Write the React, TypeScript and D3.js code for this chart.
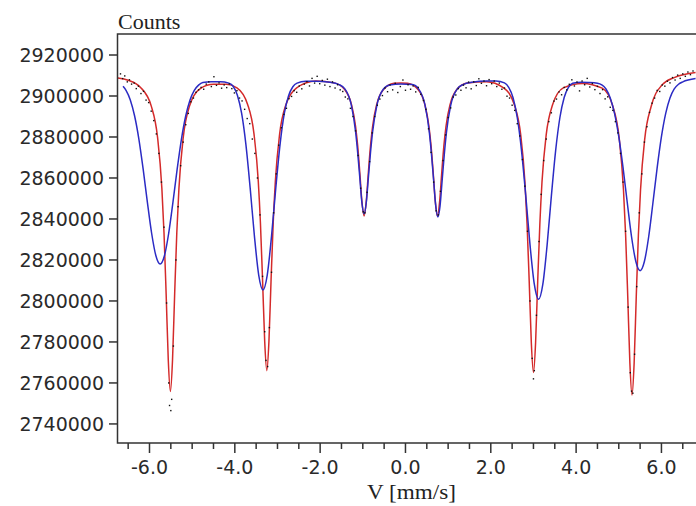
import React from "react";
import * as d3 from "d3";

// fitted curve, narrow sextet (red)
const redV = [
  -6.74, -6.5, -6.21, -5.96, -5.81, -5.71, -5.66, -5.61, -5.56, -5.51, -5.46, -5.41, -5.36, -5.31, -5.21, -5.06,
  -4.81, -4.5, -4.2, -3.95, -3.7, -3.55, -3.45, -3.4, -3.35, -3.3, -3.25, -3.2, -3.15, -3.1, -3.05, -2.95, -2.8,
  -2.55, -2.1, -1.67, -1.42, -1.27, -1.17, -1.12, -1.07, -1.02, -0.97, -0.92, -0.87, -0.82, -0.77, -0.67, -0.52,
  -0.27, -0.11, 0.05, 0.3, 0.45, 0.55, 0.6, 0.65, 0.7, 0.75, 0.8, 0.85, 0.9, 0.95, 1.05, 1.2, 1.45, 1.9, 2.3,
  2.55, 2.7, 2.8, 2.85, 2.9, 2.95, 3.0, 3.05, 3.1, 3.15, 3.2, 3.3, 3.45, 3.7, 4.15, 4.61, 4.86, 5.01, 5.11, 5.16,
  5.21, 5.26, 5.31, 5.36, 5.41, 5.46, 5.51, 5.61, 5.76, 6.01, 6.3, 6.8,
];
const redCounts = [
  2908800, 2907700, 2904200, 2895200, 2879700, 2854940, 2833250, 2803500, 2771300, 2755800, 2771300, 2803500,
  2833250, 2854940, 2879700, 2895200, 2903600, 2905700, 2905700, 2903970, 2895870, 2881440, 2858350, 2838150,
  2810440, 2780430, 2766000, 2780430, 2810440, 2838150, 2858350, 2881440, 2895870, 2903970, 2907300, 2906400,
  2903030, 2896190, 2885250, 2875670, 2862540, 2848310, 2841470, 2848310, 2862540, 2875670, 2885250, 2896190,
  2903030, 2906230, 2906400, 2906230, 2903030, 2896190, 2885250, 2875670, 2862540, 2848310, 2841470, 2848310,
  2862540, 2875670, 2885250, 2896190, 2903030, 2906300, 2907000, 2903960, 2895810, 2881280, 2858030, 2837690,
  2809790, 2779570, 2765040, 2779570, 2809790, 2837690, 2858030, 2881280, 2895810, 2903960, 2906160, 2903810,
  2895020, 2879360, 2854300, 2832380, 2802310, 2769740, 2754080, 2769740, 2802310, 2832380, 2854300, 2879360,
  2895020, 2905300, 2909000, 2911500,
];

// fitted curve, broad sextet (blue)
const blueV = [
  -6.62, -6.55, -6.45, -6.35, -6.25, -6.15, -6.05, -5.95, -5.85, -5.75, -5.65, -5.55, -5.45, -5.35, -5.25, -5.15,
  -5.05, -4.95, -4.85, -4.75, -4.55, -4.34, -4.14, -4.04, -3.94, -3.84, -3.74, -3.64, -3.54, -3.44, -3.34, -3.24,
  -3.14, -3.04, -2.94, -2.84, -2.74, -2.64, -2.54, -2.34, -2.1, -1.77, -1.57, -1.42, -1.27, -1.17, -1.12, -1.07,
  -1.02, -0.97, -0.92, -0.87, -0.82, -0.77, -0.67, -0.52, -0.37, -0.11, 0.16, 0.31, 0.46, 0.56, 0.61, 0.66, 0.71,
  0.76, 0.81, 0.86, 0.91, 0.96, 1.06, 1.21, 1.36, 1.56, 1.9, 2.12, 2.32, 2.42, 2.52, 2.62, 2.72, 2.82, 2.92, 3.02,
  3.12, 3.22, 3.32, 3.42, 3.52, 3.62, 3.72, 3.82, 3.92, 4.12, 4.3, 4.5, 4.6, 4.7, 4.8, 4.9, 5.0, 5.1, 5.2, 5.3,
  5.4, 5.5, 5.6, 5.7, 5.8, 5.9, 6.0, 6.1, 6.2, 6.3, 6.4, 6.5, 6.8,
];
const blueCounts = [
  2904725, 2902760, 2898070, 2890360, 2879130, 2864540, 2848250, 2833040, 2822030, 2818000, 2822030, 2833040,
  2848250, 2864540, 2879130, 2890360, 2898070, 2902760, 2905325, 2906596, 2907000, 2907000, 2906300, 2904774,
  2900384, 2891470, 2876260, 2855020, 2831540, 2812650, 2805400, 2812650, 2831540, 2855020, 2876260, 2891470,
  2900100, 2904500, 2906300, 2907200, 2907250, 2906700, 2905700, 2903450, 2895700, 2882700, 2872350, 2860050,
  2847730, 2842500, 2847730, 2860050, 2872300, 2882600, 2895500, 2903300, 2905400, 2905800, 2905580, 2903370,
  2895410, 2882140, 2871520, 2858910, 2846310, 2841000, 2846310, 2858910, 2871520, 2882140, 2895410, 2903370,
  2905700, 2906700, 2907300, 2907300, 2906380, 2904246, 2899273, 2889510, 2873360, 2851270, 2827260, 2808160,
  2800800, 2808160, 2827260, 2851270, 2873360, 2889510, 2899273, 2904246, 2906200, 2906700, 2906600, 2906200,
  2905400, 2903430, 2899027, 2891520, 2880150, 2865040, 2847800, 2831210, 2819250, 2814800, 2819250, 2831210,
  2847800, 2865040, 2880150, 2891520, 2899027, 2903430, 2905720, 2906900, 2908500,
];

// measured points (black dots)
const dotV = [
  -6.68, -6.63, -6.58, -6.52, -6.47, -6.42, -6.36, -6.31, -6.26, -6.2, -6.14, -6.08, -6.02, -5.96, -5.9, -5.84,
  -5.78, -5.72, -5.66, -5.6, -5.55, -5.53, -5.5, -5.48, -5.44, -5.38, -5.33, -5.27, -5.21, -5.15, -5.09, -5.03,
  -4.97, -4.91, -4.85, -4.79, -4.73, -4.67, -4.61, -4.55, -4.49, -4.43, -4.37, -4.31, -4.25, -4.19, -4.13, -4.07,
  -4.01, -3.95, -3.89, -3.83, -3.77, -3.71, -3.65, -3.59, -3.53, -3.47, -3.41, -3.35, -3.3, -3.27, -3.23, -3.19,
  -3.14, -3.09, -3.03, -2.97, -2.91, -2.85, -2.79, -2.73, -2.67, -2.61, -2.55, -2.49, -2.43, -2.37, -2.31, -2.25,
  -2.19, -2.13, -2.07, -2.01, -1.95, -1.89, -1.83, -1.77, -1.71, -1.65, -1.59, -1.53, -1.47, -1.41, -1.35, -1.29,
  -1.23, -1.17, -1.11, -1.05, -0.99, -0.95, -0.9, -0.84, -0.78, -0.72, -0.66, -0.6, -0.54, -0.48, -0.42, -0.36,
  -0.3, -0.24, -0.18, -0.12, -0.06, 0.0, 0.06, 0.12, 0.18, 0.24, 0.3, 0.36, 0.42, 0.48, 0.54, 0.6, 0.66, 0.72,
  0.77, 0.82, 0.88, 0.94, 1.0, 1.06, 1.12, 1.18, 1.24, 1.3, 1.36, 1.42, 1.48, 1.54, 1.6, 1.66, 1.72, 1.78, 1.84,
  1.9, 1.96, 2.02, 2.08, 2.14, 2.2, 2.26, 2.32, 2.38, 2.44, 2.5, 2.56, 2.62, 2.68, 2.74, 2.8, 2.86, 2.92, 2.97,
  3.0, 3.02, 3.07, 3.13, 3.18, 3.24, 3.3, 3.36, 3.42, 3.48, 3.54, 3.6, 3.66, 3.72, 3.78, 3.84, 3.9, 3.96, 4.02,
  4.08, 4.14, 4.2, 4.26, 4.32, 4.38, 4.44, 4.5, 4.56, 4.62, 4.68, 4.74, 4.8, 4.86, 4.92, 4.98, 5.04, 5.1, 5.16,
  5.22, 5.27, 5.3, 5.33, 5.37, 5.42, 5.48, 5.54, 5.6, 5.66, 5.72, 5.78, 5.84, 5.9, 5.96, 6.02, 6.08, 6.14, 6.2,
  6.26, 6.32, 6.38, 6.44, 6.5, 6.56, 6.62, 6.68, 6.74,
];
const dotCounts = [
  2910800, 2908500, 2909800, 2906900, 2907900, 2905800, 2906300, 2903600, 2904800, 2901200, 2902300, 2898000,
  2896800, 2892600, 2888000, 2881500, 2872000, 2858000, 2836000, 2799000, 2760000, 2749000, 2746500, 2752000,
  2778000, 2820000, 2846000, 2866000, 2877500, 2886000, 2891500, 2897200, 2899000, 2901800, 2903000, 2904200,
  2903300, 2905800, 2906900, 2904600, 2909400, 2905200, 2906400, 2903800, 2905400, 2904100, 2905900, 2903600,
  2901500, 2902600, 2899000, 2897600, 2893500, 2889000, 2886500, 2879000, 2872000, 2860000, 2842000, 2812000,
  2785000, 2771000, 2768000, 2787000, 2814000, 2843000, 2862000, 2876000, 2884500, 2891000, 2894000, 2898700,
  2899800, 2902600, 2901800, 2904900, 2903500, 2905800, 2907000, 2904900, 2908600, 2906300, 2909600, 2906000,
  2907600, 2905300, 2908200, 2904600, 2906900, 2903900, 2905500, 2903000, 2902200, 2899500, 2898600, 2894000,
  2890000, 2883000, 2871000, 2855000, 2843500, 2843000, 2853000, 2868000, 2882000, 2890000, 2895500, 2898500,
  2900200, 2903900, 2902100, 2905400, 2903000, 2906200, 2901700, 2904600, 2907800, 2902800, 2905500, 2903300,
  2904900, 2902000, 2904200, 2900800, 2897800, 2893500, 2884000, 2872500, 2858000, 2844000, 2842000, 2853500,
  2868500, 2881000, 2889500, 2894200, 2899500, 2900500, 2903600, 2902800, 2905300, 2904000, 2906800, 2903500,
  2906900, 2905100, 2908400, 2906200, 2907300, 2905000, 2908000, 2906000, 2907300, 2904600, 2906300, 2903300,
  2903900, 2899900, 2899000, 2895500, 2893000, 2886500, 2880500, 2869000, 2856000, 2834000, 2800000, 2772000,
  2762000, 2766000, 2793000, 2829000, 2852000, 2868500, 2879000, 2887500, 2891800, 2897500, 2898500, 2902000,
  2900600, 2904200, 2903000, 2905700, 2907900, 2904900, 2906800, 2902500, 2907300, 2905500, 2908600, 2904400,
  2906100, 2903100, 2904700, 2901200, 2903100, 2898600, 2899600, 2894500, 2893000, 2887500, 2882000, 2872000,
  2858000, 2834000, 2797000, 2765000, 2756000, 2755000, 2774000, 2807000, 2843000, 2862000, 2877500, 2885000,
  2892000, 2896500, 2899000, 2902700, 2902200, 2905400, 2904800, 2907200, 2906400, 2909000, 2907800, 2910200,
  2908600, 2910800, 2909600, 2911700, 2910400, 2912200,
];

// axis ticks
const yTicks = [2740000, 2760000, 2780000, 2800000, 2820000, 2840000, 2860000, 2880000, 2900000, 2920000];
const xTicks = [-6.0, -4.0, -2.0, 0.0, 2.0, 4.0, 6.0];

const W = 696;
const H = 506;
const left = 117.5;
const right = 697;
const top = 34;
const bottom = 443;

const numFont = "'DejaVu Sans', Verdana, sans-serif";
const serif = "'Liberation Serif', 'Times New Roman', serif";

export default function App() {
  const x = d3.scaleLinear().domain([-6.75, 6.81]).range([left, 696]);
  const y = d3.scaleLinear().domain([2730700, 2930250]).range([bottom, top]);

  const line = d3
    .line<[number, number]>()
    .x((d) => x(d[0]))
    .y((d) => y(d[1]))
    .curve(d3.curveMonotoneX);

  const red = redV.map((v, i) => [v, redCounts[i]] as [number, number]);
  const blue = blueV.map((v, i) => [v, blueCounts[i]] as [number, number]);
  const minor = d3.range(-6.5, 7, 0.5).filter((t) => Math.abs(t % 2) > 0.01);

  return (
    <svg width={W} height={H} style={{ position: "absolute", left: 0, top: 0, background: "#fff" }}>
      <defs>
        <clipPath id="plot">
          <rect x={left} y={top} width={right - left} height={bottom - top} />
        </clipPath>
      </defs>

      <text x={118} y={29} fontFamily={serif} fontSize={22} fill="#222">
        Counts
      </text>

      <g clipPath="url(#plot)">
        <path d={line(red) || ""} fill="none" stroke="#d42a2a" strokeWidth={1.5} />
        <path d={line(blue) || ""} fill="none" stroke="#2b2bc4" strokeWidth={1.5} />
        {dotV.map((v, i) => (
          <rect key={i} x={x(v) - 0.7} y={y(dotCounts[i]) - 0.7} width={1.4} height={1.4} fill="#111" />
        ))}
      </g>

      {/* frame */}
      <path
        d={`M${right},${top}H${left}V${bottom}H${right}`}
        fill="none"
        stroke="#333"
        strokeWidth={1.5}
      />

      {/* y axis */}
      {yTicks.map((t) => (
        <g key={t} transform={`translate(0,${y(t)})`}>
          <line x1={109} x2={left} stroke="#333" strokeWidth={1.5} />
          <text x={104} dy="0.36em" textAnchor="end" fontFamily={numFont} fontSize={19} fill="#2a2a2a">
            {t}
          </text>
        </g>
      ))}

      {/* x axis */}
      {minor.map((t) => (
        <line key={t} x1={x(t)} x2={x(t)} y1={bottom} y2={bottom + 6} stroke="#333" strokeWidth={1.5} />
      ))}
      {xTicks.map((t) => (
        <g key={t} transform={`translate(${x(t)},0)`}>
          <line y1={bottom} y2={bottom + 10} stroke="#333" strokeWidth={1.5} />
          <text y={474} textAnchor="middle" fontFamily={numFont} fontSize={19} fill="#2a2a2a">
            {t.toFixed(1)}
          </text>
        </g>
      ))}
      <text x={367} y={499} fontFamily={serif} fontSize={21} fill="#222" textLength={89} lengthAdjust="spacingAndGlyphs">
        V [mm/s]
      </text>
    </svg>
  );
}
